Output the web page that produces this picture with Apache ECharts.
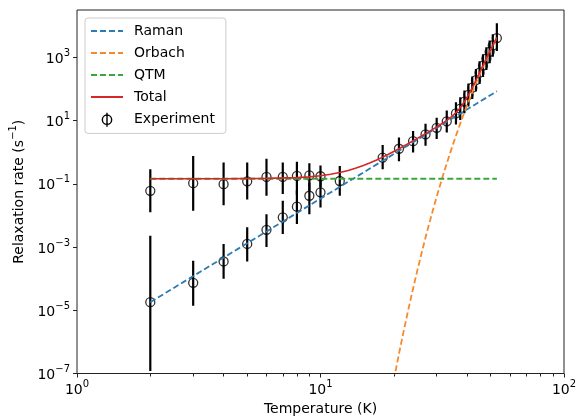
<!DOCTYPE html>
<html>
<head>
<meta charset="utf-8">
<script src="https://cdn.jsdelivr.net/npm/echarts@6/dist/echarts.min.js"></script>
<style>
html,body{margin:0;padding:0;background:#fff;}
#chart{width:578px;height:417px;}
</style>
</head>
<body>
<div id="chart"></div>
<script>
// ---- Experiment (T in K, rate in s^-1, error bar low/high) ----
var expT    = [2, 3, 4, 5, 6, 7, 8, 9, 10, 12,
               2, 3, 4, 5, 6, 7, 8, 9, 10,
               18, 21, 24, 27, 30, 33, 36, 37.5, 39, 40.5, 42, 43.5, 45, 46.5, 48, 49.5, 51, 53];
var expRate = [0.060, 0.105, 0.098, 0.12, 0.166, 0.166, 0.18, 0.186, 0.174, 0.123,
               1.8e-5, 7.4e-5, 3.5e-4, 1.26e-3, 3.5e-3, 8.7e-3, 1.9e-2, 4.2e-2, 5.4e-2,
               0.68, 1.29, 2.24, 3.7, 5.9, 9.5, 17, 24, 40, 65, 110, 190, 330, 550, 920, 1500, 2400, 4100];
var expLow  = [0.0126, 0.014, 0.021, 0.032, 0.042, 0.048, 0.045, 0.06, 0.08, 0.042,
               1.2e-7, 1.4e-5, 1.0e-4, 3.5e-4, 1.0e-3, 2.6e-3, 5.4e-3, 1.1e-2, 1.8e-2,
               0.29, 0.52, 0.98, 1.6, 2.6, 4.2, 7.5, 10.5, 17, 28, 48, 83, 145, 240, 400, 650, 1050, 1600];
var expHigh = [0.29, 0.76, 0.47, 0.47, 0.62, 0.47, 0.50, 0.45, 0.38, 0.37,
               2.3e-3, 3.7e-4, 1.26e-3, 4.2e-3, 1.1e-2, 2.9e-2, 6.3e-2, 0.11, 0.14,
               1.7, 2.9, 4.7, 7.9, 12.3, 21, 38, 55, 90, 150, 250, 430, 750, 1250, 2100, 3400, 5400, 12000];

// ---- Fit curves ----
var ramanT = [2, 53];
var ramanV = [1.8e-5, 85];
var qtmT = [2, 53];
var qtmV = [0.145, 0.145];
var orbachT = [20, 21, 22, 23, 24, 25, 26, 27, 28, 29, 30, 31, 32, 33, 34, 35, 36, 38, 40, 42, 44, 46, 48, 50, 53];
var orbachV = [6.2e-8, 4.2e-7, 2.35e-6, 1.15e-5, 4.9e-5, 1.86e-4, 6.4e-4, 2.0e-3, 5.75e-3, 0.0155, 0.039, 0.092, 0.207, 0.44, 0.90, 1.77, 3.33, 10.8, 31, 80, 190, 422, 870, 1700, 4200];
var totalT = [2, 4, 6, 8, 9, 10, 11, 12, 13, 14, 15, 16, 17, 18, 19, 20, 21, 22, 23, 24, 25, 26, 27, 28, 29, 30,
              31, 32, 33, 34, 35, 36, 37, 38, 39, 40, 41, 42, 43, 44, 45, 46, 47, 48, 49, 50, 51, 52, 53];
var totalV = [0.145, 0.1453, 0.1485, 0.157, 0.166, 0.18, 0.20, 0.228, 0.265, 0.316, 0.381, 0.464, 0.57, 0.70, 0.86, 1.06,
              1.29, 1.58, 1.9, 2.3, 2.75, 3.28, 3.89, 4.59, 5.38, 6.3,
              7.4, 8.65, 10.2, 12.1, 14.5, 17.9, 22.7, 29.5, 39.6, 55, 77, 110, 158, 227, 327, 468, 662, 926, 1287, 1770, 2400, 3230, 4285];

// ---- Axis ticks ----
var yTickExp = [-7, -5, -3, -1, 1, 3];
var xMinorTickVals = [2, 3, 4, 5, 6, 7, 8, 9, 20, 30, 40, 50, 60, 70, 80, 90];

function zip(a, b) { return a.map(function (v, i) { return [v, b[i]]; }); }
function supLabel(e) {
  var s = (e < 0 ? '\u2212' + (-e) : '' + e);
  return '{b|10}{sup|' + s + '}';
}
var FONT = 'DejaVu Sans';
var richSup = {
  b: { fontSize: 14, fontFamily: FONT, color: '#000', lineHeight: 18, verticalAlign: 'bottom' },
  sup: { fontSize: 10, fontFamily: FONT, color: '#000', lineHeight: 12, verticalAlign: 'top' }
};

var chart = echarts.init(document.getElementById('chart'), null, { renderer: 'canvas' });
chart.setOption({
  animation: false,
  backgroundColor: '#fff',
  grid: {
    left: 77, top: 10, width: 487, height: 363.5,
    show: true, borderColor: '#222', borderWidth: 1, backgroundColor: 'transparent',
    containLabel: false, outerBoundsMode: 'none'
  },
  legend: {
    orient: 'vertical', left: 85, top: 18,
    itemWidth: 32, itemHeight: 14, itemGap: 8,
    padding: [6, 11, 6, 5],
    backgroundColor: 'rgba(255,255,255,0.8)', borderColor: '#cccccc', borderWidth: 1, borderRadius: 3,
    textStyle: { fontSize: 14, fontFamily: FONT, color: '#000', lineHeight: 14, padding: [0, 0, 0, 6] },
    itemStyle: { opacity: 0 },
    data: ['Raman', 'Orbach', 'QTM', 'Total',
      { name: 'Experiment', icon: 'path://M4,0L4,12M0,6A4,4,0,1,1,8,6A4,4,0,1,1,0,6',
        itemStyle: { opacity: 1, color: 'transparent', borderColor: '#000', borderWidth: 1.4 } }]
  },
  xAxis: [{
    type: 'log', logBase: 10, min: 1, max: 100, position: 'bottom',
    name: 'Temperature (K)', nameLocation: 'middle', nameGap: 29,
    nameTextStyle: { fontSize: 14, fontFamily: FONT, color: '#000' },
    axisLine: { show: false, onZero: false },
    axisTick: { show: true, length: 4, lineStyle: { color: '#222', width: 1 } },
    axisLabel: {
      margin: 6,
      formatter: function (v) { return supLabel(Math.round(Math.log10(v))); },
      rich: richSup
    },
    splitLine: { show: false }
  }, {
    type: 'value', min: 0, max: 2, position: 'bottom',
    axisLine: { show: false, onZero: false },
    axisLabel: { show: false },
    axisTick: { show: true, length: 3, lineStyle: { color: '#222', width: 1 },
      customValues: xMinorTickVals.map(function (v) { return Math.log10(v); }) },
    splitLine: { show: false }
  }],
  yAxis: [{
    type: 'log', logBase: 10, min: 1e-7, max: 31622.776601683792, show: false,
    axisLine: { onZero: false },
    splitLine: { show: false }
  }, {
    type: 'value', min: -7, max: 4.5, position: 'left',
    name: '{n|Relaxation rate (s}{sup|\u22121}{n|)}', nameLocation: 'middle', nameGap: 49,
    nameTextStyle: { fontSize: 14, fontFamily: FONT, color: '#000',
      rich: {
        n: { fontSize: 14, fontFamily: FONT, color: '#000', lineHeight: 18, verticalAlign: 'bottom' },
        sup: { fontSize: 10, fontFamily: FONT, color: '#000', lineHeight: 12, verticalAlign: 'top' }
      } },
    axisLine: { show: false, onZero: false },
    axisTick: { show: true, length: 4, customValues: yTickExp, lineStyle: { color: '#222', width: 1 } },
    axisLabel: { margin: 7, customValues: yTickExp, formatter: function (v) { return supLabel(Math.round(v)); }, rich: richSup },
    splitLine: { show: false }
  }],
  series: [{
    name: 'ExpErr', type: 'custom', xAxisIndex: 0, yAxisIndex: 0, z: 2, clip: true,
    data: expT.map(function (t, i) { return [t, expLow[i], expHigh[i]]; }),
    encode: { x: 0, y: [1, 2] },
    renderItem: function (params, api) {
      var p1 = api.coord([api.value(0), api.value(1)]);
      var p2 = api.coord([api.value(0), api.value(2)]);
      return { type: 'line', shape: { x1: p1[0], y1: p1[1], x2: p2[0], y2: p2[1] },
        style: { stroke: '#000', lineWidth: 2.2 } };
    }
  }, {
    name: 'Experiment', type: 'scatter', xAxisIndex: 0, yAxisIndex: 0, z: 3,
    symbol: 'circle', symbolSize: 9,
    itemStyle: { color: 'transparent', borderColor: '#000', borderWidth: 1.3 },
    data: zip(expT, expRate)
  }, {
    name: 'Raman', type: 'line', xAxisIndex: 0, yAxisIndex: 0, z: 5, symbol: 'none',
    lineStyle: { color: '#2b7bb5', width: 1.8, type: [6, 3] }, itemStyle: { color: '#2b7bb5' },
    data: zip(ramanT, ramanV)
  }, {
    name: 'Orbach', type: 'line', xAxisIndex: 0, yAxisIndex: 0, z: 5, symbol: 'none',
    lineStyle: { color: '#f8892a', width: 1.8, type: [6, 3] }, itemStyle: { color: '#f8892a' },
    data: zip(orbachT, orbachV)
  }, {
    name: 'QTM', type: 'line', xAxisIndex: 0, yAxisIndex: 0, z: 5, symbol: 'none',
    lineStyle: { color: '#3ca53c', width: 1.8, type: [6, 3] }, itemStyle: { color: '#3ca53c' },
    data: zip(qtmT, qtmV)
  }, {
    name: 'Total', type: 'line', xAxisIndex: 0, yAxisIndex: 0, z: 6, symbol: 'none',
    lineStyle: { color: '#d62728', width: 1.6 }, itemStyle: { color: '#d62728' },
    data: zip(totalT, totalV)
  }]
});
</script>
</body>
</html>
